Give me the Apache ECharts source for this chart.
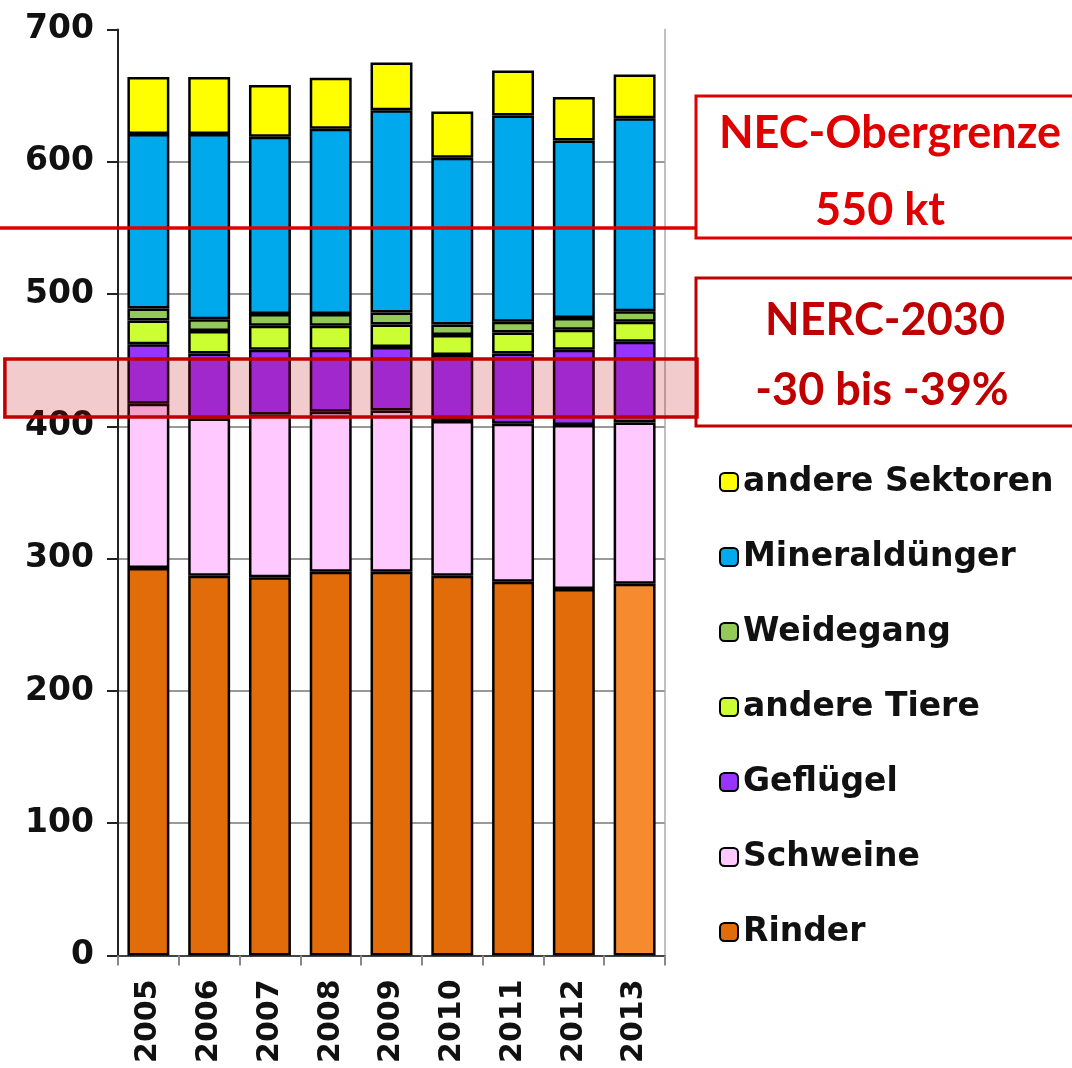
<!DOCTYPE html>
<html>
<head>
<meta charset="utf-8">
<script src="https://cdn.jsdelivr.net/npm/echarts@6/dist/echarts.min.js"></script>
<style>
  html, body { margin: 0; padding: 0; background: #fff; }
  #chart { width: 1072px; height: 1068px; }
</style>
</head>
<body>
<div id="chart"></div>
<script>
// Jahre
const years = ['2005', '2006', '2007', '2008', '2009', '2010', '2011', '2012', '2013'];

// NH3-Emissionen in kt, von unten nach oben gestapelt
const rinder         = [293, 287, 286, 290, 290, 287, 282.5, 277, 281];
const schweine       = [124, 119, 123, 121, 122, 117, 119.5, 124, 122];
const gefluegel      = [45, 49, 49, 47, 48, 50, 53, 57, 61];
const andereTiere    = [18, 17, 18, 18, 17, 15, 16, 15, 15];
const weidegang      = [9, 9, 9, 9, 9, 8, 8, 9, 8];
const mineralduenger = [132, 140, 134, 140, 153, 126, 156, 134, 146];
const andereSektoren = [43, 43, 39, 38.5, 36, 35, 34, 33, 33];

// Obergrenze und Zielkorridor
const necLimit = 550;
const nercBand = [407, 451];

const yTicks = [0, 100, 200, 300, 400, 500, 600, 700];

const chartFont = 'DejaVu Sans';
const boxFont = 'Lato';

const myChart = echarts.init(document.getElementById('chart'), null, { renderer: 'canvas' });

const barBorder = { borderColor: '#000', borderWidth: 2.5 };

function barSeries(name, data, color) {
  return {
    name: name,
    type: 'bar',
    stack: 'nh3',
    barWidth: '69%',
    xAxisIndex: 0,
    yAxisIndex: 0,
    itemStyle: Object.assign({ color: color }, barBorder),
    data: data
  };
}

// 2013 ist im Original heller eingefaerbt
const rinderData = rinder.map((v, i) => i === years.length - 1 ? { value: v, itemStyle: { color: '#F68A2E' } } : v);

const option = {
  animation: false,
  backgroundColor: '#fff',
  grid: [
    { left: 118, right: 407, top: 29.5, bottom: 112.5 },
    { left: 0, right: 375, top: 29.5, bottom: 112.5 }
  ],
  legend: {
    orient: 'vertical',
    left: 714,
    top: 457,
    itemWidth: 18,
    itemHeight: 18,
    itemGap: 35,
    textStyle: {
      fontFamily: chartFont,
      fontWeight: 'bold',
      fontSize: 33,
      lineHeight: 40,
      color: '#111'
    },
    data: ['andere Sektoren', 'Mineraldünger', 'Weidegang', 'andere Tiere', 'Geflügel', 'Schweine', 'Rinder']
  },
  xAxis: [
    {
      type: 'category',
      gridIndex: 0,
      data: years,
      axisLine: { lineStyle: { color: '#444', width: 2 } },
      axisTick: { show: true, length: 10, lineStyle: { color: '#888', width: 2 } },
      axisLabel: {
        rotate: 90,
        margin: 24,
        fontFamily: chartFont,
        fontWeight: 'bold',
        fontSize: 30,
        color: '#111'
      }
    },
    { type: 'value', gridIndex: 1, min: 0, max: 100, show: false }
  ],
  yAxis: [
    {
      type: 'value',
      gridIndex: 0,
      min: yTicks[0],
      max: yTicks[yTicks.length - 1],
      interval: 100,
      axisLine: { show: true, lineStyle: { color: '#222', width: 2 } },
      axisTick: { show: true, length: 11, lineStyle: { color: '#222', width: 2 } },
      axisLabel: {
        margin: 24,
        fontFamily: chartFont,
        fontWeight: 'bold',
        fontSize: 33,
        color: '#111'
      },
      splitLine: { show: true, showMaxLine: false, lineStyle: { color: '#999', width: 2 } }
    },
    {
      type: 'value',
      gridIndex: 0,
      position: 'right',
      min: 0,
      max: 700,
      axisLine: { show: true, lineStyle: { color: '#aaa', width: 1.5 } },
      axisTick: { show: false },
      axisLabel: { show: false },
      splitLine: { show: false }
    },
    { type: 'value', gridIndex: 1, min: 0, max: 700, show: false }
  ],
  series: [
    barSeries('Rinder', rinderData, '#E36C0A'),
    barSeries('Schweine', schweine, '#FFC8FF'),
    barSeries('Geflügel', gefluegel, '#9933FF'),
    barSeries('andere Tiere', andereTiere, '#CCFF33'),
    barSeries('Weidegang', weidegang, '#92C957'),
    barSeries('Mineraldünger', mineralduenger, '#00A8EC'),
    barSeries('andere Sektoren', andereSektoren, '#FFFF00'),
    {
      name: 'Grenzen',
      type: 'line',
      xAxisIndex: 1,
      yAxisIndex: 2,
      z: 10,
      silent: true,
      data: [],
      markLine: {
        z: 10,
        silent: true,
        symbol: 'none',
        label: { show: false },
        lineStyle: { color: '#E00000', width: 3.5, type: 'solid' },
        data: [{ yAxis: necLimit }]
      },
      markArea: {
        z: 10,
        silent: true,
        itemStyle: { color: 'rgba(192,0,0,0.2)', borderColor: '#C00000', borderWidth: 3.5 },
        data: [[{ xAxis: 0.7, yAxis: nercBand[0] }, { xAxis: 100, yAxis: nercBand[1] }]]
      }
    }
  ],
  graphic: [
    {
      type: 'group',
      z: 20,
      children: [
        {
          type: 'rect',
          shape: { x: 696, y: 96, width: 400, height: 142 },
          style: { fill: '#fff', stroke: '#E00000', lineWidth: 3 }
        },
        {
          type: 'text',
          x: 890, y: 133,
          style: {
            text: 'NEC-Obergrenze',
            fontFamily: boxFont, fontWeight: 'bold', fontSize: 45,
            fill: '#E00000', align: 'center', verticalAlign: 'middle'
          }
        },
        {
          type: 'text',
          x: 880, y: 210,
          style: {
            text: '550 kt',
            fontFamily: boxFont, fontWeight: 'bold', fontSize: 45,
            fill: '#E00000', align: 'center', verticalAlign: 'middle'
          }
        },
        {
          type: 'rect',
          shape: { x: 696, y: 278, width: 400, height: 148 },
          style: { fill: '#fff', stroke: '#C00000', lineWidth: 3 }
        },
        {
          type: 'text',
          x: 885, y: 320,
          style: {
            text: 'NERC-2030',
            fontFamily: boxFont, fontWeight: 'bold', fontSize: 45,
            fill: '#C00000', align: 'center', verticalAlign: 'middle'
          }
        },
        {
          type: 'text',
          x: 882, y: 390,
          style: {
            text: '-30 bis -39%',
            fontFamily: boxFont, fontWeight: 'bold', fontSize: 45,
            fill: '#C00000', align: 'center', verticalAlign: 'middle'
          }
        }
      ]
    }
  ]
};

myChart.setOption(option);
</script>
</body>
</html>
